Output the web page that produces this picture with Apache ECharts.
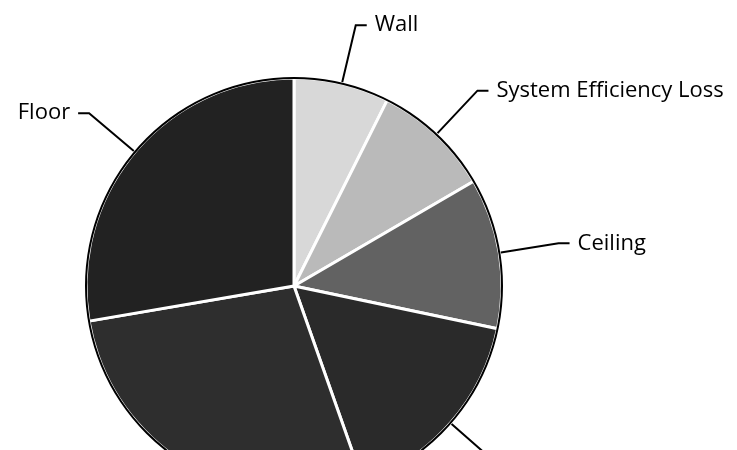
<!DOCTYPE html>
<html>
<head>
<meta charset="utf-8">
<script src="https://cdn.jsdelivr.net/npm/echarts@6/dist/echarts.min.js"></script>
<style>
  html, body { margin: 0; padding: 0; background: #fff; }
  #chart { width: 737px; height: 450px; }
</style>
</head>
<body>
<div id="chart"></div>
<script>
// Heat-loss components, share of total (%), clockwise from 12 o'clock
const categories = ['Wall', 'System Efficiency Loss', 'Ceiling', 'Windows', 'Infiltration', 'Floor'];
const shares = [7.4, 9.2, 11.7, 16.3, 27.7, 27.7];
const sliceColors = ['#d8d8d8', '#bababa', '#626262', '#2a2a2a', '#2e2e2e', '#222222'];

const chart = echarts.init(document.getElementById('chart'), null, { renderer: 'canvas' });

const center = [294, 286];
const R = 208;

chart.setOption({
  backgroundColor: '#ffffff',
  animation: false,
  series: [
    {
      type: 'pie',
      center: center,
      radius: [0, R],
      startAngle: 90,
      clockwise: true,
      avoidLabelOverlap: false,
      data: categories.map((name, i) => ({
        name: name,
        value: shares[i],
        itemStyle: { color: sliceColors[i] }
      })),
      itemStyle: { borderColor: '#ffffff', borderWidth: 3 },
      label: {
        show: true,
        formatter: '{b}',
        fontFamily: 'Open Sans',
        fontSize: 22,
        color: '#000000',
        distanceToLabelLine: 8
      },
      labelLine: {
        show: true,
        length: 60,
        length2: 11,
        lineStyle: { color: '#000000', width: 2 }
      },
      emphasis: { disabled: true }
    },
    {
      // thin dark rim around the whole pie
      type: 'pie',
      center: center,
      radius: [R - 1, R + 1],
      silent: true,
      z: 5,
      data: [{ value: 1, itemStyle: { color: '#000000' } }],
      label: { show: false },
      labelLine: { show: false },
      emphasis: { disabled: true }
    }
  ]
});
</script>
</body>
</html>
